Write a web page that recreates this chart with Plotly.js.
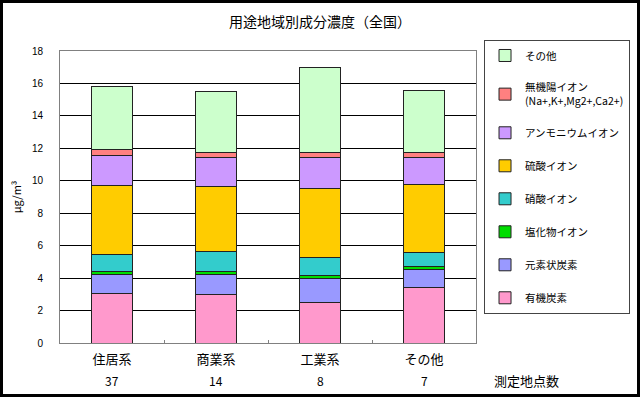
<!DOCTYPE html>
<html>
<head>
<meta charset="utf-8">
<script src="https://cdn.plot.ly/plotly-3.0.1.min.js"></script>
<style>
  html, body { margin: 0; padding: 0; background: #fff; }
  #wrap { position: absolute; left: 0; top: 0; width: 640px; height: 397px; box-sizing: border-box; border: 3px solid #000; background: #fff; }
  #chart { width: 634px; height: 391px; }
</style>
</head>
<body>
<div id="wrap"><div id="chart"></div></div>
<script>
// ---- data ----
const categories = ['住居系', '商業系', '工業系', 'その他'];
const siteCounts = [37, 14, 8, 7];
const countLabel = '測定地点数';

const seriesNames = ['有機炭素', '元素状炭素', '塩化物イオン', '硝酸イオン', '硫酸イオン', 'アンモニウムイオン', '無機陽イオン<br>(Na+,K+,Mg2+,Ca2+)', 'その他'];
const organicCarbon   = [3.05, 2.99, 2.49, 3.40];
const elementalCarbon = [1.17, 1.21, 1.49, 1.15];
const chlorideIon     = [0.16, 0.18, 0.16, 0.14];
const nitrateIon      = [1.08, 1.26, 1.13, 0.89];
const sulfateIon      = [4.26, 4.01, 4.26, 4.17];
const ammoniumIon     = [1.82, 1.77, 1.89, 1.67];
const inorganicCation = [0.37, 0.35, 0.35, 0.35];
const otherComponents = [3.89, 3.75, 5.21, 3.79];

const seriesValues = [organicCarbon, elementalCarbon, chlorideIon, nitrateIon, sulfateIon, ammoniumIon, inorganicCation, otherComponents];
const seriesColors = ['#FF99CC', '#9999FF', '#00DD00', '#33CCCC', '#FFCC00', '#CC99FF', '#FF8080', '#CCFFCC'];

const yTicks = [0, 2, 4, 6, 8, 10, 12, 14, 16, 18];

const jp = '"Noto Sans CJK JP", "Noto Sans", sans-serif';

const traces = seriesNames.map((name, i) => ({
  type: 'bar',
  name: name,
  x: categories,
  y: seriesValues[i],
  legendgroup: 'g' + i,
  legendrank: 100 - i,
  marker: { color: seriesColors[i], line: { color: '#222', width: 1 } },
  hoverinfo: 'none'
}));

const annotations = categories.map((c, i) => ({
  x: c, xref: 'x', y: -0.127, yref: 'paper',
  text: String(siteCounts[i]), showarrow: false,
  xanchor: 'center', yanchor: 'middle',
  font: { family: jp, size: 12, color: '#000' }
}));
annotations.push({
  x: 1.122, xref: 'paper', y: -0.127, yref: 'paper',
  text: countLabel, showarrow: false,
  xanchor: 'center', yanchor: 'middle',
  font: { family: jp, size: 13, color: '#000' }
});

const layout = {
  width: 634, height: 391,
  margin: { l: 57, r: 161, t: 48, b: 51 },
  paper_bgcolor: '#fff', plot_bgcolor: '#fff',
  font: { family: jp, size: 12, color: '#000' },
  title: {
    text: '用途地域別成分濃度（全国）',
    x: 0.5, xanchor: 'center', y: 0.951, yanchor: 'middle',
    font: { family: jp, size: 14, color: '#000' }
  },
  barmode: 'stack',
  bargap: 0.6,
  showlegend: true,
  legend: {
    xref: 'container', yref: 'container',
    x: 0.7587, xanchor: 'left', y: 0.9054, yanchor: 'top',
    traceorder: 'grouped',
    tracegroupgap: 14,
    maxheight: 1,
    bordercolor: '#444', borderwidth: 1, bgcolor: '#fff',
    font: { family: jp, size: 10.5, color: '#000' },
    itemwidth: 30
  },
  xaxis: {
    type: 'category',
    showline: true, linecolor: '#808080', linewidth: 1, mirror: true,
    ticks: 'inside', tickson: 'boundaries', ticklen: 3, tickcolor: '#808080',
    showgrid: false, zeroline: false,
    tickfont: { family: jp, size: 13, color: '#000' },
    ticklabelstandoff: 4
  },
  yaxis: {
    range: [0, 18], tickvals: yTicks, ticktext: yTicks.map(String),
    showline: true, linecolor: '#808080', linewidth: 1, mirror: true,
    showgrid: true, gridcolor: '#000', gridwidth: 1,
    zeroline: false, ticks: '',
    ticklabelstandoff: 14,
    tickfont: { family: '"Liberation Sans", Arial, sans-serif', size: 10, color: '#000' },
    title: { text: 'μg/m³', standoff: 8, font: { family: jp, size: 11, color: '#000' } }
  },
  annotations: annotations,
  hovermode: false
};

Plotly.newPlot('chart', traces, layout, { staticPlot: true, displayModeBar: false });
</script>
</body>
</html>
